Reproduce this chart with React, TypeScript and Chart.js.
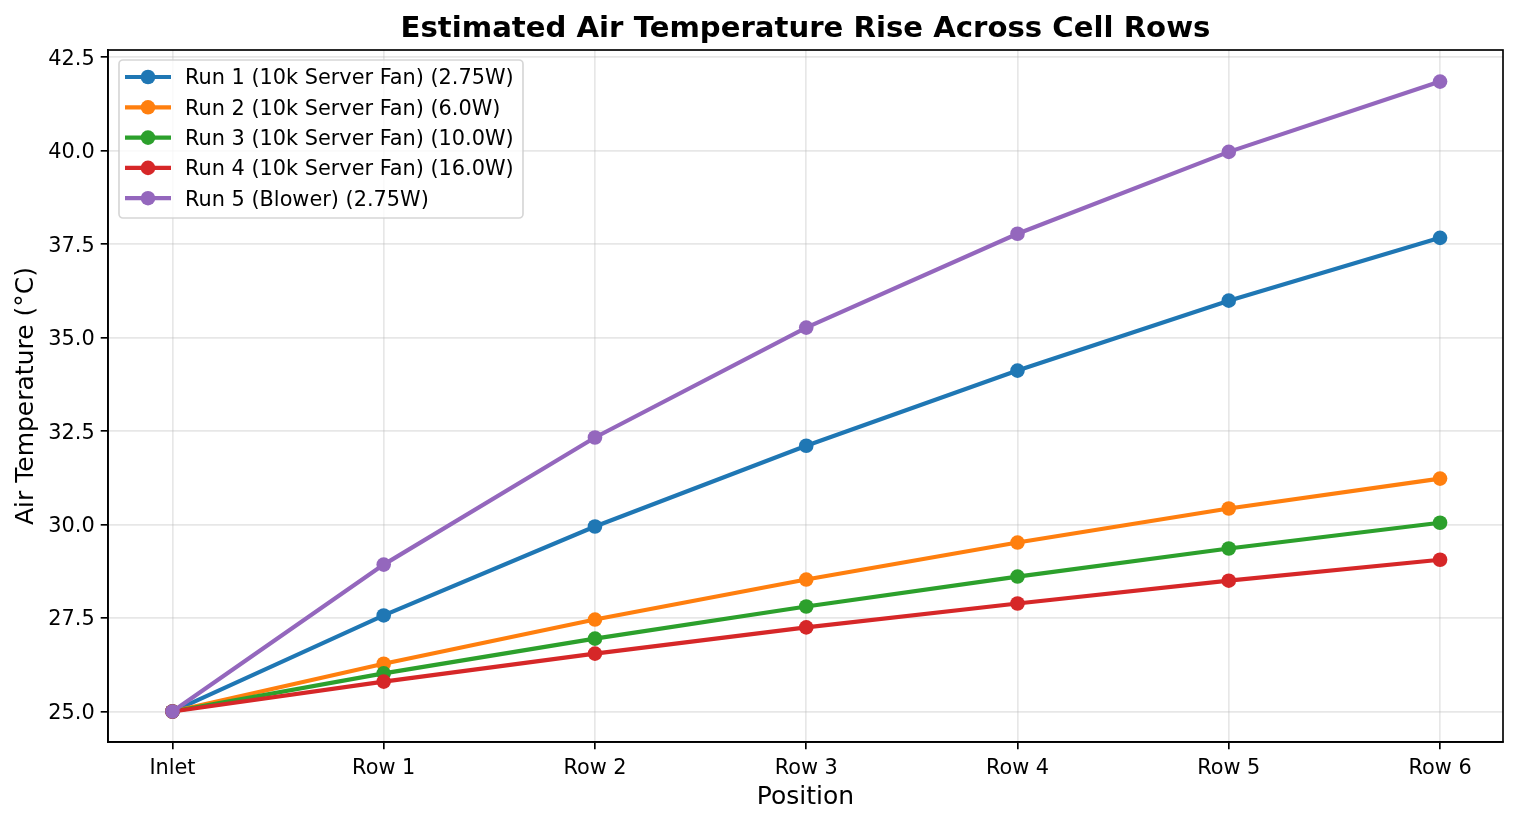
import React, { useEffect, useRef } from "react";
import { Chart, registerables } from "chart.js";

Chart.register(...registerables);

const positions = ["Inlet", "Row 1", "Row 2", "Row 3", "Row 4", "Row 5", "Row 6"];
const yTicks = [25, 27.5, 30, 32.5, 35, 37.5, 40, 42.5];

const run1 = [25, 27.57, 29.95, 32.11, 34.12, 35.99, 37.67];
const run2 = [25, 26.28, 27.46, 28.53, 29.52, 30.43, 31.23];
const run3 = [25, 26.02, 26.95, 27.81, 28.61, 29.36, 30.05];
const run4 = [25, 25.8, 26.55, 27.25, 27.89, 28.5, 29.06];
const run5 = [25, 28.93, 32.33, 35.27, 37.78, 39.97, 41.85];

const seriesNames = [
  "Run 1 (10k Server Fan) (2.75W)",
  "Run 2 (10k Server Fan) (6.0W)",
  "Run 3 (10k Server Fan) (10.0W)",
  "Run 4 (10k Server Fan) (16.0W)",
  "Run 5 (Blower) (2.75W)",
];
const seriesValues = [run1, run2, run3, run4, run5];
const seriesColors = ["#1f77b4", "#ff7f0e", "#2ca02c", "#d62728", "#9467bd"];

const FONT = "'DejaVu Sans'";

// top and right spines, chart.js only draws the axis borders
const framePlugin = {
  id: "frame",
  afterDatasetsDraw(chart: Chart) {
    const { ctx, chartArea: a } = chart;
    ctx.save();
    ctx.strokeStyle = "#000";
    ctx.lineWidth = 1.67;
    ctx.strokeRect(a.left, a.top, a.right - a.left, a.bottom - a.top);
    ctx.restore();
  },
};

// matplotlib style legend inside the plot, with line + dot handles
const legendPlugin = {
  id: "insideLegend",
  afterDraw(chart: Chart) {
    const { ctx, chartArea: a } = chart;
    const x = a.left + 11;
    const y = a.top + 10;
    ctx.save();
    ctx.beginPath();
    ctx.roundRect(x, y, 404, 158, 4);
    ctx.fillStyle = "rgba(255,255,255,0.8)";
    ctx.fill();
    ctx.strokeStyle = "rgba(204,204,204,0.8)";
    ctx.lineWidth = 1.67;
    ctx.stroke();
    ctx.font = `20.83px ${FONT}`;
    ctx.textBaseline = "middle";
    chart.data.datasets.forEach((ds: any, i: number) => {
      const rowY = y + 17 + i * 30.3;
      ctx.strokeStyle = ds.borderColor;
      ctx.lineWidth = 4.17;
      ctx.beginPath();
      ctx.moveTo(x + 6, rowY);
      ctx.lineTo(x + 52, rowY);
      ctx.stroke();
      ctx.fillStyle = ds.borderColor;
      ctx.beginPath();
      ctx.arc(x + 29, rowY, 7.3, 0, Math.PI * 2);
      ctx.fill();
      ctx.fillStyle = "#000";
      ctx.fillText(ds.label, x + 66, rowY + 2);
    });
    ctx.restore();
  },
};

export default function App() {
  const canvasRef = useRef<HTMLCanvasElement>(null);

  useEffect(() => {
    document.body.style.margin = "0";
    if (!canvasRef.current) return;
    const chart = new Chart(canvasRef.current, {
      type: "line",
      data: {
        datasets: seriesValues.map((vals, i) => ({
          label: seriesNames[i],
          data: vals.map((v, k) => ({ x: k, y: v })),
          borderColor: seriesColors[i],
          backgroundColor: seriesColors[i],
          borderWidth: 4.17,
          pointRadius: 7.3,
          pointBorderWidth: 0,
          pointHoverRadius: 7.3,
          tension: 0,
          order: seriesValues.length - i,
        })),
      },
      options: {
        responsive: false,
        animation: false,
        devicePixelRatio: 1,
        layout: { padding: { right: 15 } },
        plugins: {
          legend: { display: false },
          tooltip: { enabled: false },
          title: {
            display: true,
            text: "Estimated Air Temperature Rise Across Cell Rows",
            fullSize: false,
            color: "#000",
            font: { family: FONT, size: 29.17, weight: "bold" },
            padding: { top: 12, bottom: 3 },
          },
        },
        scales: {
          x: {
            type: "linear",
            min: -0.305,
            max: 6.298,
            afterBuildTicks: (axis: any) => {
              axis.ticks = positions.map((_, k) => ({ value: k }));
            },
            afterFit: (axis: any) => {
              axis.height = 82;
            },
            ticks: {
              color: "#000",
              font: { family: FONT, size: 20.83 },
              padding: 7,
              maxRotation: 0,
              autoSkip: false,
              callback: (v: any) => positions[v],
            },
            grid: {
              color: "rgba(176,176,176,0.3)",
              lineWidth: 1.67,
              tickColor: "#000",
              tickWidth: 1.67,
              tickLength: 7.3,
            },
            border: { color: "#000", width: 1.67 },
            title: {
              display: true,
              text: "Position",
              color: "#000",
              font: { family: FONT, size: 25 },
              padding: { top: 4, bottom: 12 },
            },
          },
          y: {
            type: "linear",
            min: 24.185,
            max: 42.695,
            afterBuildTicks: (axis: any) => {
              axis.ticks = yTicks.map((v) => ({ value: v }));
            },
            afterFit: (axis: any) => {
              axis.width = 108;
            },
            ticks: {
              color: "#000",
              font: { family: FONT, size: 20.83 },
              padding: 6,
              labelOffset: 2,
              callback: (v: any) => Number(v).toFixed(1),
            },
            grid: {
              color: "rgba(176,176,176,0.3)",
              lineWidth: 1.67,
              tickColor: "#000",
              tickWidth: 1.67,
              tickLength: 7.3,
            },
            border: { color: "#000", width: 1.67 },
            title: {
              display: true,
              text: "Air Temperature (°C)",
              color: "#000",
              font: { family: FONT, size: 25 },
              padding: { top: 11, bottom: 0 },
            },
          },
        },
      },
      plugins: [framePlugin, legendPlugin],
    });
    return () => chart.destroy();
  }, []);

  return <canvas ref={canvasRef} width={1518} height={824} style={{ display: "block" }} />;
}
